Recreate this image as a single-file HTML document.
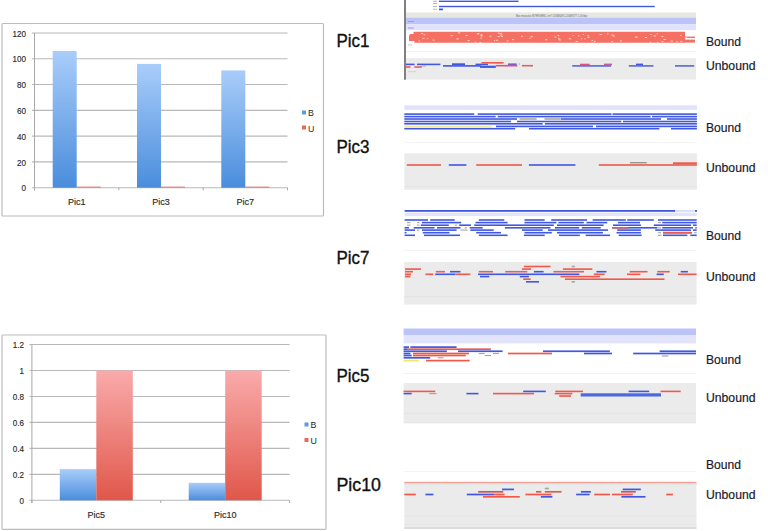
<!DOCTYPE html>
<html><head><meta charset="utf-8">
<style>
html,body{margin:0;padding:0;background:#fff;width:768px;height:531px;overflow:hidden;}
svg{display:block;font-family:"Liberation Sans", sans-serif;}
</style></head>
<body>
<svg width="768" height="531" viewBox="0 0 768 531">
<defs>
<linearGradient id="gb" x1="0" y1="0" x2="0" y2="1"><stop offset="0" stop-color="#a9cdfa"/><stop offset="1" stop-color="#4a8ddc"/></linearGradient>
<linearGradient id="gr" x1="0" y1="0" x2="0" y2="1"><stop offset="0" stop-color="#f9abab"/><stop offset="1" stop-color="#e0574a"/></linearGradient>
<linearGradient id="gb2" x1="0" y1="0" x2="0" y2="1"><stop offset="0" stop-color="#a9cdfa"/><stop offset="1" stop-color="#4a8ddc"/></linearGradient>
</defs>
<rect x="2" y="23.5" width="321.5" height="192.5" fill="#fff" stroke="#bcbcbc" stroke-width="1.2" rx="1"/>
<line x1="32" y1="187.7" x2="287.5" y2="187.7" stroke="#b8b8b8" stroke-width="1.1"/>
<text transform="translate(26,191.29999999999998) scale(0.86,1)" font-size="9.4" text-anchor="end" fill="#2a2a2a" stroke="#2a2a2a" stroke-width="0.15">0</text>
<line x1="32" y1="161.91666666666666" x2="287.5" y2="161.91666666666666" stroke="#b8b8b8" stroke-width="1.1"/>
<text transform="translate(26,165.51666666666665) scale(0.86,1)" font-size="9.4" text-anchor="end" fill="#2a2a2a" stroke="#2a2a2a" stroke-width="0.15">20</text>
<line x1="32" y1="136.13333333333333" x2="287.5" y2="136.13333333333333" stroke="#b8b8b8" stroke-width="1.1"/>
<text transform="translate(26,139.73333333333332) scale(0.86,1)" font-size="9.4" text-anchor="end" fill="#2a2a2a" stroke="#2a2a2a" stroke-width="0.15">40</text>
<line x1="32" y1="110.35" x2="287.5" y2="110.35" stroke="#b8b8b8" stroke-width="1.1"/>
<text transform="translate(26,113.94999999999999) scale(0.86,1)" font-size="9.4" text-anchor="end" fill="#2a2a2a" stroke="#2a2a2a" stroke-width="0.15">60</text>
<line x1="32" y1="84.56666666666666" x2="287.5" y2="84.56666666666666" stroke="#b8b8b8" stroke-width="1.1"/>
<text transform="translate(26,88.16666666666666) scale(0.86,1)" font-size="9.4" text-anchor="end" fill="#2a2a2a" stroke="#2a2a2a" stroke-width="0.15">80</text>
<line x1="32" y1="58.78333333333333" x2="287.5" y2="58.78333333333333" stroke="#b8b8b8" stroke-width="1.1"/>
<text transform="translate(26,62.38333333333333) scale(0.86,1)" font-size="9.4" text-anchor="end" fill="#2a2a2a" stroke="#2a2a2a" stroke-width="0.15">100</text>
<line x1="32" y1="33.0" x2="287.5" y2="33.0" stroke="#b8b8b8" stroke-width="1.1"/>
<text transform="translate(26,36.6) scale(0.86,1)" font-size="9.4" text-anchor="end" fill="#2a2a2a" stroke="#2a2a2a" stroke-width="0.15">120</text>
<line x1="34.5" y1="33.0" x2="34.5" y2="190.3" stroke="#a8a8a8" stroke-width="1"/>
<line x1="34.5" y1="187.7" x2="34.5" y2="190.3" stroke="#a8a8a8" stroke-width="1"/>
<line x1="118.83333333333333" y1="187.7" x2="118.83333333333333" y2="190.3" stroke="#a8a8a8" stroke-width="1"/>
<line x1="203.16666666666666" y1="187.7" x2="203.16666666666666" y2="190.3" stroke="#a8a8a8" stroke-width="1"/>
<line x1="287.5" y1="187.7" x2="287.5" y2="190.3" stroke="#a8a8a8" stroke-width="1"/>
<rect x="52.7" y="51.0" width="24" height="136.7" fill="url(#gb)"/>
<rect x="76.7" y="186.6" width="24" height="1.1" fill="#e07a70"/>
<text x="76.66666666666666" y="204.7" font-size="9" text-anchor="middle" fill="#2a2a2a" stroke="#2a2a2a" stroke-width="0.15">Pic1</text>
<rect x="137.0" y="63.9" width="24" height="123.8" fill="url(#gb)"/>
<rect x="161.0" y="186.6" width="24" height="1.1" fill="#e07a70"/>
<text x="161.0" y="204.7" font-size="9" text-anchor="middle" fill="#2a2a2a" stroke="#2a2a2a" stroke-width="0.15">Pic3</text>
<rect x="221.3" y="70.4" width="24" height="117.3" fill="url(#gb)"/>
<rect x="245.3" y="186.6" width="24" height="1.1" fill="#e07a70"/>
<text x="245.33333333333331" y="204.7" font-size="9" text-anchor="middle" fill="#2a2a2a" stroke="#2a2a2a" stroke-width="0.15">Pic7</text>
<rect x="302" y="110.5" width="4.0" height="4.0" fill="#5b9be6"/>
<text x="308" y="116" font-size="8.8" text-anchor="start" fill="#2a2a2a" >B</text>
<rect x="302" y="125.5" width="4.0" height="4.0" fill="#e8685c"/>
<text x="308" y="131.5" font-size="8.8" text-anchor="start" fill="#2a2a2a" >U</text>
<rect x="2" y="335" width="324" height="194.3" fill="#fff" stroke="#bcbcbc" stroke-width="1.2" rx="1"/>
<line x1="29.5" y1="500.3" x2="289.6" y2="500.3" stroke="#b8b8b8" stroke-width="1.1"/>
<text transform="translate(24,503.90000000000003) scale(0.86,1)" font-size="9.4" text-anchor="end" fill="#2a2a2a" stroke="#2a2a2a" stroke-width="0.15">0</text>
<line x1="29.5" y1="474.33333333333337" x2="289.6" y2="474.33333333333337" stroke="#b8b8b8" stroke-width="1.1"/>
<text transform="translate(24,477.9333333333334) scale(0.86,1)" font-size="9.4" text-anchor="end" fill="#2a2a2a" stroke="#2a2a2a" stroke-width="0.15">0.2</text>
<line x1="29.5" y1="448.3666666666667" x2="289.6" y2="448.3666666666667" stroke="#b8b8b8" stroke-width="1.1"/>
<text transform="translate(24,451.9666666666667) scale(0.86,1)" font-size="9.4" text-anchor="end" fill="#2a2a2a" stroke="#2a2a2a" stroke-width="0.15">0.4</text>
<line x1="29.5" y1="422.4" x2="289.6" y2="422.4" stroke="#b8b8b8" stroke-width="1.1"/>
<text transform="translate(24,426.0) scale(0.86,1)" font-size="9.4" text-anchor="end" fill="#2a2a2a" stroke="#2a2a2a" stroke-width="0.15">0.6</text>
<line x1="29.5" y1="396.43333333333334" x2="289.6" y2="396.43333333333334" stroke="#b8b8b8" stroke-width="1.1"/>
<text transform="translate(24,400.03333333333336) scale(0.86,1)" font-size="9.4" text-anchor="end" fill="#2a2a2a" stroke="#2a2a2a" stroke-width="0.15">0.8</text>
<line x1="29.5" y1="370.4666666666667" x2="289.6" y2="370.4666666666667" stroke="#b8b8b8" stroke-width="1.1"/>
<text transform="translate(24,374.0666666666667) scale(0.86,1)" font-size="9.4" text-anchor="end" fill="#2a2a2a" stroke="#2a2a2a" stroke-width="0.15">1</text>
<line x1="29.5" y1="344.5" x2="289.6" y2="344.5" stroke="#b8b8b8" stroke-width="1.1"/>
<text transform="translate(24,348.1) scale(0.86,1)" font-size="9.4" text-anchor="end" fill="#2a2a2a" stroke="#2a2a2a" stroke-width="0.15">1.2</text>
<line x1="31.9" y1="344.5" x2="31.9" y2="503" stroke="#a8a8a8" stroke-width="1"/>
<line x1="31.9" y1="500.3" x2="31.9" y2="503" stroke="#a8a8a8" stroke-width="1"/>
<line x1="160.75000000000003" y1="500.3" x2="160.75000000000003" y2="503" stroke="#a8a8a8" stroke-width="1"/>
<line x1="289.6" y1="500.3" x2="289.6" y2="503" stroke="#a8a8a8" stroke-width="1"/>
<rect x="59.8" y="469.1" width="36.5" height="31.2" fill="url(#gb)"/>
<rect x="96.3" y="370.5" width="36.5" height="129.8" fill="url(#gr)"/>
<text x="96.32500000000002" y="517.7" font-size="9" text-anchor="middle" fill="#2a2a2a" stroke="#2a2a2a" stroke-width="0.15">Pic5</text>
<rect x="188.7" y="482.8" width="36.5" height="17.5" fill="url(#gb)"/>
<rect x="225.2" y="370.5" width="36.5" height="129.8" fill="url(#gr)"/>
<text x="225.17500000000004" y="517.7" font-size="9" text-anchor="middle" fill="#2a2a2a" stroke="#2a2a2a" stroke-width="0.15">Pic10</text>
<rect x="304.5" y="422.5" width="4.0" height="4.0" fill="#5b9be6"/>
<text x="310.5" y="428.3" font-size="8.8" text-anchor="start" fill="#2a2a2a" >B</text>
<rect x="304.5" y="438" width="4.0" height="4.0" fill="#e8685c"/>
<text x="310.5" y="443.7" font-size="8.8" text-anchor="start" fill="#2a2a2a" >U</text>
<text x="336.5" y="46.8" font-size="17.5" text-anchor="start" fill="#111" stroke="#111" stroke-width="0.35" textLength="33" lengthAdjust="spacingAndGlyphs">Pic1</text>
<text x="336.5" y="153.4" font-size="17.5" text-anchor="start" fill="#111" stroke="#111" stroke-width="0.35" textLength="33" lengthAdjust="spacingAndGlyphs">Pic3</text>
<text x="336.5" y="263.8" font-size="17.5" text-anchor="start" fill="#111" stroke="#111" stroke-width="0.35" textLength="33" lengthAdjust="spacingAndGlyphs">Pic7</text>
<text x="336.5" y="382.4" font-size="17.5" text-anchor="start" fill="#111" stroke="#111" stroke-width="0.35" textLength="33" lengthAdjust="spacingAndGlyphs">Pic5</text>
<text x="336.5" y="490.7" font-size="17.5" text-anchor="start" fill="#111" stroke="#111" stroke-width="0.35" textLength="44.5" lengthAdjust="spacingAndGlyphs">Pic10</text>
<text x="706" y="45.7" font-size="12.8" text-anchor="start" fill="#1a1a2a" stroke="#1a1a2a" stroke-width="0.2" textLength="35" lengthAdjust="spacingAndGlyphs">Bound</text>
<text x="706" y="70.1" font-size="12.8" text-anchor="start" fill="#1a1a2a" stroke="#1a1a2a" stroke-width="0.2" textLength="49.5" lengthAdjust="spacingAndGlyphs">Unbound</text>
<text x="706" y="131.7" font-size="12.8" text-anchor="start" fill="#1a1a2a" stroke="#1a1a2a" stroke-width="0.2" textLength="35" lengthAdjust="spacingAndGlyphs">Bound</text>
<text x="706" y="171.7" font-size="12.8" text-anchor="start" fill="#1a1a2a" stroke="#1a1a2a" stroke-width="0.2" textLength="49.5" lengthAdjust="spacingAndGlyphs">Unbound</text>
<text x="706" y="239.8" font-size="12.8" text-anchor="start" fill="#1a1a2a" stroke="#1a1a2a" stroke-width="0.2" textLength="35" lengthAdjust="spacingAndGlyphs">Bound</text>
<text x="706" y="280.6" font-size="12.8" text-anchor="start" fill="#1a1a2a" stroke="#1a1a2a" stroke-width="0.2" textLength="49.5" lengthAdjust="spacingAndGlyphs">Unbound</text>
<text x="706" y="364.1" font-size="12.8" text-anchor="start" fill="#1a1a2a" stroke="#1a1a2a" stroke-width="0.2" textLength="35" lengthAdjust="spacingAndGlyphs">Bound</text>
<text x="706" y="402.2" font-size="12.8" text-anchor="start" fill="#1a1a2a" stroke="#1a1a2a" stroke-width="0.2" textLength="49.5" lengthAdjust="spacingAndGlyphs">Unbound</text>
<text x="706" y="468.6" font-size="12.8" text-anchor="start" fill="#1a1a2a" stroke="#1a1a2a" stroke-width="0.2" textLength="35" lengthAdjust="spacingAndGlyphs">Bound</text>
<text x="706" y="498.6" font-size="12.8" text-anchor="start" fill="#1a1a2a" stroke="#1a1a2a" stroke-width="0.2" textLength="49.5" lengthAdjust="spacingAndGlyphs">Unbound</text>
<rect x="404" y="0" width="2.0" height="79.7" fill="#808080"/>
<rect x="439.0" y="0.60" width="79.5" height="1.4" fill="#4058e0"/>
<rect x="439.0" y="5.80" width="215.7" height="1.4" fill="#4058e0"/>
<rect x="439.0" y="8.50" width="4.0" height="1.8" fill="#4058e0"/>
<rect x="433.0" y="0.70" width="4.0" height="1" fill="#b8b8b8"/>
<rect x="433.0" y="3.00" width="4.0" height="1" fill="#b8b8b8"/>
<rect x="433.0" y="6.00" width="4.0" height="1" fill="#b8b8b8"/>
<rect x="433.0" y="8.70" width="4.0" height="1" fill="#b8b8b8"/>
<rect x="406" y="12.4" width="290.0" height="5.2" fill="#e8e8e3"/>
<text x="516" y="17.3" font-size="3.6" text-anchor="start" fill="#5a5a5a" textLength="71" lengthAdjust="spacingAndGlyphs">Mus musculus INTERGENIC chr7:120686495-120689277 1.00 kbp</text>
<rect x="406" y="17.6" width="290.0" height="6.5" fill="#bcc3f8"/>
<rect x="406" y="24.1" width="290.0" height="6.1" fill="#e1e3fc"/>
<rect x="408.0" y="21.00" width="6.0" height="1" fill="#a0a0c8"/>
<rect x="408.0" y="27.50" width="6.0" height="1" fill="#a0a0c8"/>
<path d="M413.5,31.8 L685,31.8 L685,36.5 L685,42.7 L414.5,42.7 L414.5,41 L409,41 L409,36 L410,34 L413.5,34 Z" fill="#f56f62"/>
<rect x="685.0" y="36.60" width="10.0" height="1.4" fill="#f56f62"/>
<rect x="685.0" y="39.60" width="10.0" height="3.0" fill="#f56f62"/>

<rect x="480.4" y="37.7" width="1.6" height="0.9" fill="#fde0da"/>
<rect x="581.1" y="38.4" width="1.1" height="0.9" fill="#fde0da"/>
<rect x="418.6" y="40.5" width="1.4" height="0.9" fill="#fde0da"/>
<rect x="479.4" y="42.0" width="1.7" height="0.9" fill="#fde0da"/>
<rect x="645.0" y="37.0" width="2.0" height="0.9" fill="#fde0da"/>
<rect x="456.4" y="38.5" width="2.3" height="0.9" fill="#fde0da"/>
<rect x="558.9" y="39.5" width="2.0" height="0.9" fill="#fde0da"/>
<rect x="432.6" y="39.7" width="1.9" height="0.9" fill="#fde0da"/>
<rect x="497.8" y="32.8" width="2.3" height="0.9" fill="#fde0da"/>
<rect x="545.0" y="39.3" width="2.3" height="0.9" fill="#fde0da"/>
<rect x="611.4" y="41.3" width="1.6" height="0.9" fill="#fde0da"/>
<rect x="635.2" y="36.7" width="2.5" height="0.9" fill="#fde0da"/>
<rect x="656.7" y="33.4" width="1.2" height="0.9" fill="#fde0da"/>
<rect x="474.7" y="41.7" width="1.6" height="0.9" fill="#fde0da"/>
<rect x="587.3" y="35.4" width="1.8" height="0.9" fill="#fde0da"/>
<rect x="521.1" y="35.8" width="1.9" height="0.9" fill="#fde0da"/>
<rect x="575.7" y="41.1" width="2.0" height="0.9" fill="#fde0da"/>
<rect x="670.5" y="40.6" width="2.4" height="0.9" fill="#fde0da"/>
<rect x="599.6" y="34.0" width="2.3" height="0.9" fill="#fde0da"/>
<rect x="680.3" y="41.1" width="1.8" height="0.9" fill="#fde0da"/>
<rect x="611.3" y="34.5" width="2.2" height="0.9" fill="#fde0da"/>
<rect x="572.7" y="35.2" width="1.1" height="0.9" fill="#fde0da"/>
<rect x="649.8" y="41.9" width="1.2" height="0.9" fill="#fde0da"/>
<rect x="635.2" y="36.4" width="1.2" height="0.9" fill="#fde0da"/>
<rect x="495.8" y="39.8" width="2.3" height="0.9" fill="#fde0da"/>
<rect x="427.2" y="38.3" width="1.0" height="0.9" fill="#fde0da"/>
<rect x="612.6" y="35.6" width="2.3" height="0.9" fill="#fde0da"/>
<rect x="684.7" y="37.3" width="2.5" height="0.9" fill="#fde0da"/>
<rect x="500.2" y="33.2" width="1.9" height="0.9" fill="#fde0da"/>
<rect x="423.6" y="34.4" width="1.6" height="0.9" fill="#fde0da"/>
<rect x="582.9" y="34.0" width="1.0" height="0.9" fill="#fde0da"/>
<rect x="653.6" y="35.5" width="2.5" height="0.9" fill="#fde0da"/>
<rect x="661.6" y="36.1" width="1.7" height="0.9" fill="#fde0da"/>
<rect x="558.0" y="38.6" width="1.9" height="0.9" fill="#fde0da"/>
<rect x="568.8" y="38.4" width="2.4" height="0.9" fill="#fde0da"/>
<rect x="554.4" y="36.6" width="2.1" height="0.9" fill="#fde0da"/>
<rect x="480.3" y="35.4" width="2.5" height="0.9" fill="#fde0da"/>
<rect x="558.3" y="37.7" width="1.0" height="0.9" fill="#fde0da"/>
<rect x="529.2" y="38.0" width="1.0" height="0.9" fill="#fde0da"/>
<rect x="584.3" y="38.5" width="1.1" height="0.9" fill="#fde0da"/>
<rect x="587.5" y="36.9" width="2.0" height="0.9" fill="#fde0da"/>
<rect x="512.0" y="39.2" width="2.1" height="0.9" fill="#fde0da"/>
<rect x="421.1" y="33.1" width="2.0" height="0.9" fill="#fde0da"/>
<rect x="679.9" y="34.9" width="1.7" height="0.9" fill="#fde0da"/>
<rect x="578.0" y="35.5" width="1.5" height="0.9" fill="#fde0da"/>
<rect x="501.0" y="36.0" width="1.9" height="0.9" fill="#fde0da"/>
<rect x="497.6" y="36.1" width="2.2" height="0.9" fill="#fde0da"/>
<rect x="422.4" y="37.9" width="2.1" height="0.9" fill="#fde0da"/>
<rect x="500.3" y="34.6" width="2.2" height="0.9" fill="#fde0da"/>
<rect x="480.6" y="34.3" width="1.7" height="0.9" fill="#fde0da"/>
<rect x="607.0" y="33.5" width="1.5" height="0.9" fill="#fde0da"/>
<rect x="506.8" y="40.4" width="1.6" height="0.9" fill="#fde0da"/>
<rect x="650.3" y="34.1" width="1.5" height="0.9" fill="#fde0da"/>
<rect x="593.8" y="40.9" width="1.7" height="0.9" fill="#fde0da"/>
<rect x="476.9" y="33.6" width="1.8" height="0.9" fill="#fde0da"/>
<rect x="467.5" y="40.2" width="2.2" height="0.9" fill="#fde0da"/>
<rect x="465.5" y="35.1" width="2.2" height="0.9" fill="#fde0da"/>
<rect x="591.5" y="40.2" width="1.6" height="0.9" fill="#fde0da"/>
<rect x="450.7" y="35.3" width="2.2" height="0.9" fill="#fde0da"/>
<rect x="489.6" y="35.8" width="1.6" height="0.9" fill="#fde0da"/>
<rect x="530.4" y="36.4" width="2.4" height="0.9" fill="#fde0da"/>
<rect x="457.9" y="32.5" width="2.4" height="0.9" fill="#fde0da"/>
<rect x="657.0" y="41.9" width="1.6" height="0.9" fill="#fde0da"/>
<rect x="676.3" y="41.3" width="1.3" height="0.9" fill="#fde0da"/>
<rect x="620.0" y="40.4" width="2.0" height="0.9" fill="#fde0da"/>
<rect x="557.7" y="35.2" width="1.5" height="0.9" fill="#fde0da"/>
<rect x="477.6" y="33.1" width="1.8" height="0.9" fill="#fde0da"/>
<rect x="493.9" y="40.2" width="1.1" height="0.9" fill="#fde0da"/>
<rect x="663.5" y="39.1" width="2.4" height="0.9" fill="#fde0da"/>
<rect x="661.6" y="41.0" width="1.8" height="0.9" fill="#fde0da"/>
<rect x="408.0" y="44.50" width="4.0" height="1" fill="#c8c8c8"/>
<rect x="406" y="51" width="290.0" height="0.8" fill="#f0f0f0"/>
<rect x="406" y="58.2" width="290.0" height="21.4" fill="#ebebeb"/>
<rect x="408.0" y="71.20" width="8.0" height="1" fill="#d8d0d0"/>
<rect x="406.0" y="63.60" width="8.6" height="1.6" fill="#4058e0"/>
<rect x="417.0" y="63.60" width="23.4" height="1.6" fill="#4058e0"/>
<rect x="406.0" y="66.20" width="4.5" height="1.6" fill="#f0584a"/>
<rect x="414.3" y="66.20" width="7.6" height="1.6" fill="#e06070"/>
<rect x="422.0" y="65.50" width="4.0" height="1" fill="#a8a8a0"/>
<rect x="443.0" y="65.10" width="37.7" height="1.6" fill="#4058e0"/>
<rect x="452.0" y="63.30" width="13.0" height="1.8" fill="#4058e0"/>
<rect x="475.5" y="63.60" width="12.5" height="1.6" fill="#4058e0"/>
<rect x="481.5" y="62.00" width="22.1" height="1.6" fill="#f0584a"/>
<rect x="480.0" y="65.70" width="15.8" height="2.2" fill="#4058e0"/>
<rect x="495.8" y="64.90" width="21.5" height="1.6" fill="#d0587a"/>
<rect x="508.0" y="63.40" width="8.7" height="1.6" fill="#8a58c8"/>
<rect x="518.6" y="63.50" width="1.4" height="1" fill="#a8a8a0"/>
<rect x="521.9" y="64.90" width="11.1" height="1.6" fill="#e06060"/>
<rect x="572.2" y="65.10" width="39.0" height="1.6" fill="#5868d8"/>
<rect x="580.0" y="63.70" width="9.7" height="1.4" fill="#e05080"/>
<rect x="604.0" y="63.60" width="8.0" height="1.6" fill="#c060a0"/>
<rect x="628.8" y="65.10" width="24.7" height="1.6" fill="#5868d8"/>
<rect x="636.0" y="63.60" width="7.0" height="1.6" fill="#4058e0"/>
<rect x="675.0" y="65.10" width="19.2" height="1.6" fill="#5868d8"/>
<rect x="404.3" y="105.3" width="292.6" height="4.5" fill="#e0e2fc"/>
<rect x="404.3" y="113.30" width="69.9" height="1.6" fill="#4058e0"/>
<rect x="477.7" y="113.30" width="133.8" height="1.6" fill="#4058e0"/>
<rect x="612.5" y="113.30" width="84.4" height="1.6" fill="#4058e0"/>
<rect x="404.3" y="115.80" width="91.4" height="1.6" fill="#4058e0"/>
<rect x="497.7" y="115.80" width="152.9" height="1.6" fill="#4058e0"/>
<rect x="652.0" y="115.80" width="44.9" height="1.6" fill="#4058e0"/>
<rect x="404.3" y="118.20" width="112.7" height="1.6" fill="#4058e0"/>
<rect x="519.5" y="118.20" width="17.2" height="1.6" fill="#a8a8a0"/>
<rect x="544.5" y="118.20" width="16.3" height="1.6" fill="#a8a8a0"/>
<rect x="561.0" y="118.20" width="100.0" height="1.6" fill="#4058e0"/>
<rect x="667.0" y="118.20" width="29.9" height="1.6" fill="#4058e0"/>
<rect x="404.3" y="120.70" width="106.7" height="1.6" fill="#4058e0"/>
<rect x="517.0" y="120.70" width="104.3" height="1.6" fill="#4058e0"/>
<rect x="623.0" y="120.70" width="73.9" height="1.6" fill="#4058e0"/>
<rect x="404.3" y="123.00" width="138.3" height="1.6" fill="#4058e0"/>
<rect x="545.0" y="123.00" width="151.9" height="1.6" fill="#4058e0"/>
<rect x="404.3" y="125.60" width="87.5" height="1.6" fill="#f4e890"/>
<rect x="496.0" y="125.60" width="97.0" height="1.6" fill="#4058e0"/>
<rect x="596.0" y="125.60" width="100.9" height="1.6" fill="#4058e0"/>
<rect x="404.3" y="127.90" width="110.9" height="1.6" fill="#4058e0"/>
<rect x="529.0" y="127.90" width="130.4" height="1.6" fill="#4058e0"/>
<rect x="671.0" y="127.90" width="25.9" height="1.6" fill="#4058e0"/>
<rect x="404.3" y="142.3" width="292.6" height="0.8" fill="#f0f0f0"/>
<rect x="404.3" y="153.3" width="292.6" height="36.5" fill="#ebebeb"/>
<rect x="404.3" y="186.2" width="292.6" height="0.7" fill="#e2e2e2"/>
<rect x="406.8" y="164.20" width="34.2" height="1.6" fill="#f0584a"/>
<rect x="448.8" y="164.20" width="17.6" height="1.6" fill="#4058e0"/>
<rect x="476.2" y="164.20" width="45.8" height="1.6" fill="#f0584a"/>
<rect x="528.9" y="164.20" width="46.5" height="1.6" fill="#4058e0"/>
<rect x="598.8" y="164.20" width="98.1" height="1.6" fill="#f0584a"/>
<rect x="630.0" y="162.00" width="16.7" height="1.4" fill="#909890"/>
<rect x="673.0" y="162.30" width="23.9" height="1.8" fill="#f0584a"/>
<rect x="404.6" y="210.00" width="270.6" height="1.8" fill="#4058e0"/>
<rect x="675.2" y="210.00" width="19.8" height="1.8" fill="#d8dcf8"/>
<rect x="695.0" y="210.00" width="2.0" height="1.8" fill="#5060c0"/>
<rect x="404.6" y="212.6" width="292.1" height="3.4" fill="#e2e4fc"/>
<rect x="404.6" y="219.20" width="23.4" height="1.6" fill="#4058e0"/>
<rect x="430.2" y="219.20" width="24.5" height="1.6" fill="#4058e0"/>
<rect x="478.8" y="219.20" width="25.5" height="1.6" fill="#4058e0"/>
<rect x="524.5" y="219.20" width="20.2" height="1.6" fill="#4058e0"/>
<rect x="551.2" y="219.20" width="35.8" height="1.6" fill="#4058e0"/>
<rect x="592.6" y="219.20" width="33.2" height="1.6" fill="#4058e0"/>
<rect x="627.2" y="219.20" width="26.6" height="1.6" fill="#4058e0"/>
<rect x="658.0" y="219.20" width="38.7" height="1.6" fill="#4058e0"/>
<rect x="422.0" y="221.80" width="39.2" height="1.6" fill="#4058e0"/>
<rect x="475.5" y="221.80" width="32.1" height="1.6" fill="#4058e0"/>
<rect x="524.5" y="221.80" width="31.9" height="1.6" fill="#4058e0"/>
<rect x="558.4" y="221.80" width="25.4" height="1.6" fill="#4058e0"/>
<rect x="586.4" y="221.80" width="20.8" height="1.6" fill="#4058e0"/>
<rect x="618.0" y="221.80" width="22.0" height="1.6" fill="#4058e0"/>
<rect x="662.3" y="221.80" width="34.4" height="1.6" fill="#4058e0"/>
<rect x="420.8" y="224.40" width="28.0" height="1.6" fill="#4058e0"/>
<rect x="459.2" y="224.40" width="11.8" height="1.6" fill="#4058e0"/>
<rect x="474.2" y="224.40" width="79.6" height="1.6" fill="#4058e0"/>
<rect x="557.0" y="224.40" width="46.6" height="1.6" fill="#4058e0"/>
<rect x="613.0" y="224.40" width="27.9" height="1.6" fill="#4058e0"/>
<rect x="653.8" y="224.40" width="37.2" height="1.6" fill="#4058e0"/>
<rect x="693.0" y="224.40" width="3.7" height="1.6" fill="#4058e0"/>
<rect x="404.6" y="227.00" width="4.4" height="1.6" fill="#4058e0"/>
<rect x="413.7" y="227.00" width="20.8" height="1.6" fill="#4058e0"/>
<rect x="437.0" y="227.00" width="23.5" height="1.6" fill="#4058e0"/>
<rect x="469.7" y="227.00" width="13.0" height="1.6" fill="#4058e0"/>
<rect x="505.0" y="227.00" width="45.5" height="1.6" fill="#4058e0"/>
<rect x="555.0" y="227.00" width="24.2" height="1.6" fill="#4058e0"/>
<rect x="581.8" y="227.00" width="18.9" height="1.6" fill="#4058e0"/>
<rect x="612.2" y="227.00" width="45.1" height="1.6" fill="#4058e0"/>
<rect x="662.3" y="227.00" width="30.7" height="1.6" fill="#4058e0"/>
<rect x="695.3" y="227.00" width="1.4" height="1.6" fill="#4058e0"/>
<rect x="404.6" y="229.30" width="10.4" height="1.6" fill="#4058e0"/>
<rect x="422.0" y="229.30" width="34.6" height="1.6" fill="#4058e0"/>
<rect x="470.3" y="229.30" width="23.4" height="1.6" fill="#4058e0"/>
<rect x="522.0" y="229.30" width="20.7" height="1.6" fill="#4058e0"/>
<rect x="548.0" y="229.30" width="60.0" height="1.6" fill="#4058e0"/>
<rect x="617.2" y="229.30" width="23.7" height="1.6" fill="#4058e0"/>
<rect x="655.2" y="229.30" width="35.8" height="1.6" fill="#4058e0"/>
<rect x="693.0" y="229.30" width="3.7" height="1.6" fill="#4058e0"/>
<rect x="404.6" y="231.90" width="1.9" height="1.6" fill="#4058e0"/>
<rect x="422.8" y="231.90" width="26.7" height="1.6" fill="#4058e0"/>
<rect x="476.2" y="231.90" width="24.8" height="1.6" fill="#4058e0"/>
<rect x="524.5" y="231.90" width="27.3" height="1.6" fill="#4058e0"/>
<rect x="557.0" y="231.90" width="45.9" height="1.6" fill="#4058e0"/>
<rect x="616.5" y="231.90" width="24.4" height="1.6" fill="#4058e0"/>
<rect x="663.0" y="231.90" width="28.7" height="1.6" fill="#4058e0"/>
<rect x="404.6" y="234.50" width="10.4" height="1.6" fill="#4058e0"/>
<rect x="424.0" y="234.50" width="36.0" height="1.6" fill="#4058e0"/>
<rect x="478.8" y="234.50" width="28.8" height="1.6" fill="#4058e0"/>
<rect x="523.9" y="234.50" width="20.8" height="1.6" fill="#4058e0"/>
<rect x="559.0" y="234.50" width="20.8" height="1.6" fill="#4058e0"/>
<rect x="585.7" y="234.50" width="24.3" height="1.6" fill="#4058e0"/>
<rect x="618.7" y="234.50" width="22.9" height="1.6" fill="#4058e0"/>
<rect x="663.0" y="234.50" width="24.4" height="1.6" fill="#4058e0"/>
<rect x="690.3" y="234.50" width="6.4" height="1.6" fill="#4058e0"/>
<rect x="612.2" y="227.00" width="15.8" height="1.6" fill="#f0584a"/>
<rect x="663.0" y="231.90" width="28.7" height="1.6" fill="#f0584a"/>
<rect x="407.0" y="222.00" width="3.4" height="1.2" fill="#b0b0a0"/>
<rect x="417.0" y="222.00" width="2.5" height="1.2" fill="#b0b0a0"/>
<rect x="407.0" y="224.60" width="3.4" height="1.2" fill="#b0b0a0"/>
<rect x="417.0" y="224.60" width="2.5" height="1.2" fill="#b0b0a0"/>
<rect x="454.7" y="224.60" width="2.6" height="1.2" fill="#b0b0a0"/>
<rect x="464.5" y="227.20" width="2.5" height="1.2" fill="#b0b0a0"/>
<rect x="417.0" y="229.50" width="2.5" height="1.2" fill="#b0b0a0"/>
<rect x="460.5" y="229.50" width="7.2" height="1.2" fill="#b0b0a0"/>
<rect x="658.0" y="222.00" width="3.0" height="1.2" fill="#b0b0a0"/>
<rect x="657.3" y="227.20" width="3.7" height="1.2" fill="#b0b0a0"/>
<rect x="658.0" y="232.10" width="3.0" height="1.2" fill="#b0b0a0"/>
<rect x="658.0" y="234.70" width="3.5" height="1.2" fill="#b0b0a0"/>
<rect x="694.0" y="232.10" width="2.7" height="1.2" fill="#b0b0a0"/>
<rect x="404.2" y="250.1" width="292.4" height="0.8" fill="#f0f0f0"/>
<rect x="404.2" y="262" width="292.4" height="42.6" fill="#ebebeb"/>
<rect x="404.2" y="296.4" width="292.4" height="0.8" fill="#e0e0e0"/>
<rect x="405.0" y="268.30" width="16.0" height="1.6" fill="#f0584a"/>
<rect x="405.0" y="270.90" width="8.0" height="1.6" fill="#f0584a"/>
<rect x="435.8" y="270.90" width="9.2" height="1.6" fill="#e06070"/>
<rect x="450.0" y="270.90" width="10.5" height="1.6" fill="#4058e0"/>
<rect x="478.8" y="270.90" width="14.2" height="1.6" fill="#e06060"/>
<rect x="405.0" y="273.50" width="6.0" height="1.6" fill="#f0584a"/>
<rect x="425.4" y="273.50" width="7.8" height="1.6" fill="#f0584a"/>
<rect x="435.2" y="273.50" width="20.1" height="1.6" fill="#4058e0"/>
<rect x="455.3" y="273.50" width="15.0" height="1.6" fill="#f0584a"/>
<rect x="478.0" y="273.50" width="101.4" height="1.6" fill="#4058e0"/>
<rect x="405.0" y="275.80" width="5.4" height="1.6" fill="#f0584a"/>
<rect x="480.0" y="275.80" width="9.2" height="1.6" fill="#4058e0"/>
<rect x="524.0" y="265.70" width="26.5" height="1.6" fill="#f0584a"/>
<rect x="571.6" y="265.70" width="3.3" height="1.6" fill="#a8a8a0"/>
<rect x="521.9" y="268.30" width="9.1" height="1.6" fill="#f0584a"/>
<rect x="562.9" y="268.30" width="29.5" height="1.6" fill="#f0584a"/>
<rect x="505.2" y="270.90" width="22.1" height="1.6" fill="#e06070"/>
<rect x="533.9" y="270.90" width="9.7" height="1.6" fill="#4058e0"/>
<rect x="553.4" y="270.90" width="30.6" height="1.6" fill="#e06070"/>
<rect x="596.4" y="270.90" width="10.1" height="1.6" fill="#4058e0"/>
<rect x="593.8" y="273.50" width="10.9" height="1.6" fill="#f0584a"/>
<rect x="519.8" y="275.80" width="9.1" height="1.6" fill="#4058e0"/>
<rect x="560.5" y="275.80" width="39.5" height="1.6" fill="#f0584a"/>
<rect x="523.2" y="278.40" width="7.4" height="1.6" fill="#f0584a"/>
<rect x="565.0" y="278.40" width="99.5" height="1.6" fill="#f0584a"/>
<rect x="526.0" y="281.00" width="13.0" height="1.6" fill="#4058e0"/>
<rect x="571.6" y="281.00" width="3.3" height="1.6" fill="#a8a8a0"/>
<rect x="629.7" y="270.90" width="17.8" height="1.6" fill="#f0584a"/>
<rect x="657.3" y="270.90" width="12.4" height="1.6" fill="#f0584a"/>
<rect x="680.7" y="270.90" width="7.2" height="1.6" fill="#4058e0"/>
<rect x="627.0" y="273.50" width="13.4" height="1.6" fill="#f0584a"/>
<rect x="656.6" y="273.50" width="7.2" height="1.6" fill="#4058e0"/>
<rect x="678.0" y="273.50" width="18.6" height="1.6" fill="#f0584a"/>
<rect x="403.6" y="328.5" width="292.4" height="6.5" fill="#bcc3f8"/>
<rect x="403.6" y="335" width="292.4" height="8.4" fill="#e2e4fc"/>
<rect x="403.6" y="346.25" width="5.4" height="1.7" fill="#4058e0"/>
<rect x="410.4" y="346.25" width="46.2" height="1.7" fill="#4058e0"/>
<rect x="403.6" y="348.35" width="4.2" height="1.7" fill="#4058e0"/>
<rect x="407.8" y="348.35" width="83.1" height="1.7" fill="#f0584a"/>
<rect x="403.6" y="350.40" width="43.3" height="1.7" fill="#4058e0"/>
<rect x="458.0" y="350.40" width="44.6" height="1.7" fill="#4058e0"/>
<rect x="543.0" y="350.40" width="66.8" height="1.7" fill="#4058e0"/>
<rect x="659.6" y="350.40" width="36.4" height="1.7" fill="#4058e0"/>
<rect x="403.6" y="352.65" width="6.8" height="1.7" fill="#4058e0"/>
<rect x="413.0" y="352.65" width="56.0" height="1.7" fill="#f0584a"/>
<rect x="478.8" y="352.90" width="5.8" height="1.2" fill="#a8a8a0"/>
<rect x="493.0" y="352.90" width="6.0" height="1.2" fill="#a8a8a0"/>
<rect x="508.0" y="352.65" width="44.0" height="1.7" fill="#f0584a"/>
<rect x="584.0" y="352.65" width="28.0" height="1.7" fill="#4058e0"/>
<rect x="633.2" y="352.65" width="62.8" height="1.7" fill="#4058e0"/>
<rect x="403.6" y="354.65" width="8.1" height="1.7" fill="#4058e0"/>
<rect x="413.0" y="354.65" width="52.8" height="1.7" fill="#f0584a"/>
<rect x="484.6" y="354.90" width="6.4" height="1.2" fill="#a8a8a0"/>
<rect x="661.8" y="355.40" width="6.6" height="1.2" fill="#a8a8a0"/>
<rect x="403.6" y="356.95" width="26.6" height="1.7" fill="#4058e0"/>
<rect x="437.8" y="357.20" width="5.8" height="1.2" fill="#a8a8a0"/>
<rect x="403.6" y="359.75" width="15.3" height="1.7" fill="#f0e860"/>
<rect x="426.0" y="359.75" width="43.7" height="1.7" fill="#f0584a"/>
<rect x="403.6" y="373.1" width="292.4" height="0.8" fill="#f0f0f0"/>
<rect x="403.6" y="383" width="292.4" height="40.4" fill="#ebebeb"/>
<rect x="403.6" y="412.9" width="292.4" height="0.7" fill="#e2e2e2"/>
<rect x="403.6" y="422" width="292.4" height="0.6" fill="#e4e4e4"/>
<rect x="403.6" y="390.60" width="31.6" height="1.6" fill="#f0584a"/>
<rect x="403.6" y="392.80" width="8.1" height="1.6" fill="#4058e0"/>
<rect x="429.3" y="393.00" width="7.2" height="1.2" fill="#a8a8a0"/>
<rect x="466.4" y="392.80" width="12.1" height="1.6" fill="#4058e0"/>
<rect x="493.0" y="392.80" width="41.0" height="1.6" fill="#f0584a"/>
<rect x="523.2" y="390.60" width="22.6" height="1.6" fill="#4058e0"/>
<rect x="555.3" y="390.60" width="27.7" height="1.6" fill="#f0584a"/>
<rect x="554.7" y="392.80" width="17.6" height="1.6" fill="#f0584a"/>
<rect x="559.2" y="395.20" width="11.8" height="1.6" fill="#f0584a"/>
<rect x="580.7" y="393.30" width="80.3" height="3.2" fill="#4a68e0"/>
<rect x="628.6" y="390.60" width="20.6" height="1.6" fill="#4058e0"/>
<rect x="660.5" y="390.60" width="20.2" height="1.6" fill="#f0584a"/>
<rect x="404.3" y="471" width="292.2" height="0.8" fill="#f0f0f0"/>
<rect x="404.3" y="483.4" width="292.2" height="45.5" fill="#ebebeb"/>
<rect x="404.3" y="481.8" width="292.2" height="1.8" fill="#f6a098"/>
<rect x="404.3" y="483.6" width="292.2" height="1.7" fill="#e3eaea"/>
<rect x="404.3" y="515.8" width="292.2" height="0.6" fill="#e2e2e2"/>
<rect x="404.3" y="524.4" width="292.2" height="0.6" fill="#e4e4e4"/>
<rect x="404.3" y="527" width="292.2" height="2.0" fill="#dcdcdc"/>
<rect x="404.3" y="493.65" width="11.5" height="1.7" fill="#f0584a"/>
<rect x="425.4" y="493.65" width="8.0" height="1.7" fill="#4058e0"/>
<rect x="466.8" y="493.65" width="27.4" height="1.7" fill="#4058e0"/>
<rect x="494.2" y="493.65" width="10.4" height="1.7" fill="#f0584a"/>
<rect x="478.2" y="490.95" width="25.1" height="1.7" fill="#c85858"/>
<rect x="482.9" y="495.95" width="36.9" height="1.7" fill="#f0584a"/>
<rect x="502.0" y="488.55" width="12.0" height="1.7" fill="#4058e0"/>
<rect x="544.8" y="487.65" width="4.0" height="1.7" fill="#a8a8a0"/>
<rect x="536.0" y="490.95" width="5.4" height="1.7" fill="#d86050"/>
<rect x="544.8" y="490.95" width="16.7" height="1.7" fill="#d06050"/>
<rect x="580.9" y="490.95" width="10.0" height="1.7" fill="#4058e0"/>
<rect x="525.4" y="493.65" width="26.1" height="1.7" fill="#f0584a"/>
<rect x="576.2" y="493.65" width="13.4" height="1.7" fill="#4058e0"/>
<rect x="594.2" y="493.65" width="15.8" height="1.7" fill="#f0584a"/>
<rect x="540.8" y="495.95" width="11.6" height="1.7" fill="#4058e0"/>
<rect x="622.7" y="488.55" width="18.1" height="1.7" fill="#4058e0"/>
<rect x="621.0" y="490.95" width="14.8" height="1.7" fill="#c85868"/>
<rect x="612.0" y="493.65" width="20.8" height="1.7" fill="#f0584a"/>
<rect x="666.2" y="493.65" width="6.7" height="1.7" fill="#f0584a"/>
<rect x="621.4" y="495.95" width="24.1" height="1.7" fill="#4058e0"/>
</svg>
</body></html>
